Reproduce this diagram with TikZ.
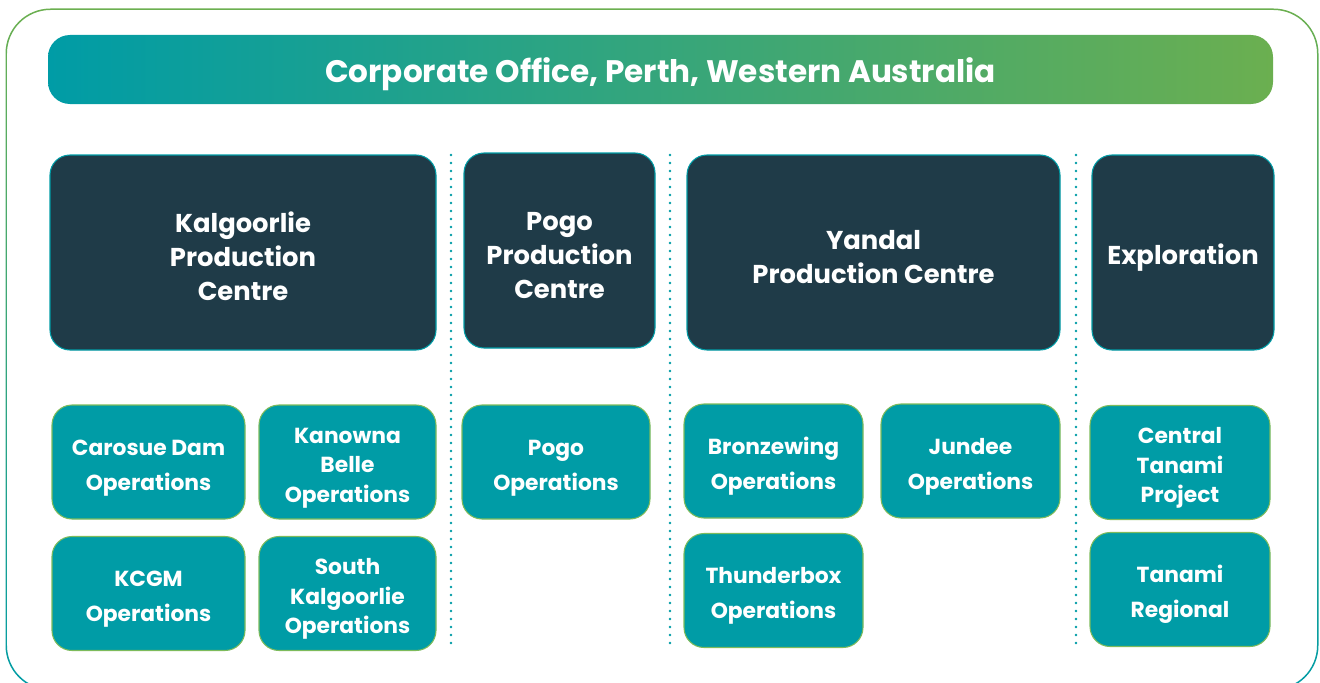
\documentclass[tikz,border=0pt]{standalone}
\usepackage{fontspec}
\setmainfont{Poppins}
\usetikzlibrary{positioning}

\definecolor{tealc}{HTML}{009CA6}
\definecolor{greenc}{HTML}{6BAF50}
\definecolor{navyc}{HTML}{1F3B48}
\definecolor{rimc}{HTML}{7DBB5B}

% invisible strut on the first line, pushes the text block down a little
\newcommand\padtop[1][15.6pt]{\rule{0pt}{#1}}

\begin{document}
\begin{tikzpicture}[
    centre/.style={draw=tealc, line width=0.6pt, fill=navyc, rounded corners=0.4cm, minimum height=3.9cm, align=center, text=white,
                   font=\bfseries\fontsize{14.7}{19.3}\selectfont},
    ops/.style={draw=rimc, line width=0.6pt, fill=tealc, rounded corners=0.4cm, minimum height=2.28cm, align=center, text=white,
                font=\bfseries\fontsize{12.4}{16.7}\selectfont},
    opstwo/.style={ops, font=\bfseries\fontsize{12.4}{19.8}\selectfont},
    sep/.style={draw=tealc, line width=1.6pt, line cap=round, dash pattern=on 0pt off 0.16cm}
]
\useasboundingbox (0,0) rectangle (26.4,13.64);

% outer frame, green at the top fading to teal at the bottom
\shade[top color=greenc, bottom color=tealc, even odd rule]
    [rounded corners=0.9cm] (0.11,-0.17) rectangle (26.37,13.47)
    [rounded corners=0.87cm] (0.14,-0.14) rectangle (26.34,13.44);

% head office banner
\node[rounded corners=0.44cm, left color=tealc, right color=greenc, minimum width=24.5cm, minimum height=1.38cm,
      text=white, font=\bfseries\fontsize{17.7}{20}\selectfont] (corp) at (13.21,12.25)
      {\padtop[19.2pt]Corporate Office, Perth, Western Australia};

% production centres
\node[centre, minimum width=7.72cm] (kal) at (4.86,8.59) {\padtop Kalgoorlie\\Production\\Centre};
\node[centre, minimum width=3.82cm] (pogo) at (11.19,8.63) {\padtop Pogo\\Production\\Centre};
\node[centre, minimum width=7.46cm] (yan) at (17.47,8.59) {\padtop Yandal\\Production Centre};
\node[centre, minimum width=3.64cm] (expl) at (23.66,8.59) {\padtop[17.5pt]Exploration};

% operations
\node[opstwo, minimum width=3.86cm] (carosue) at (2.97,4.40) {\padtop Carosue Dam\\Operations};
\node[ops, minimum width=3.54cm] (kanowna) at (6.95,4.40) {\padtop Kanowna\\Belle\\Operations};
\node[opstwo, minimum width=3.86cm] (kcgm) at (2.97,1.77) {\padtop KCGM\\Operations};
\node[ops, minimum width=3.54cm] (skal) at (6.95,1.77) {\padtop South\\Kalgoorlie\\Operations};
\node[opstwo, minimum width=3.76cm] (pogoops) at (11.12,4.40) {\padtop Pogo\\Operations};
\node[opstwo, minimum width=3.58cm] (bronze) at (15.47,4.42) {\padtop Bronzewing\\Operations};
\node[opstwo, minimum width=3.58cm] (jundee) at (19.41,4.42) {\padtop Jundee\\Operations};
\node[opstwo, minimum width=3.58cm] (thunder) at (15.47,1.83) {\padtop Thunderbox\\Operations};
\node[ops, minimum width=3.6cm] (ctp) at (23.6,4.39) {\padtop Central\\Tanami\\Project};
\node[opstwo, minimum width=3.6cm] (treg) at (23.6,1.85) {\padtop Tanami\\Regional};

% dotted dividers between the groups
\coordinate (s1t) at (9.02,10.54);  \coordinate (s1b) at (9.02,0.64);
\coordinate (s2t) at (13.4,10.54);  \coordinate (s2b) at (13.4,0.64);
\coordinate (s3t) at (21.52,10.54); \coordinate (s3b) at (21.52,0.64);
\draw[sep] (s1t) -- (s1b);
\draw[sep] (s2t) -- (s2b);
\draw[sep] (s3t) -- (s3b);
\end{tikzpicture}
\end{document}
